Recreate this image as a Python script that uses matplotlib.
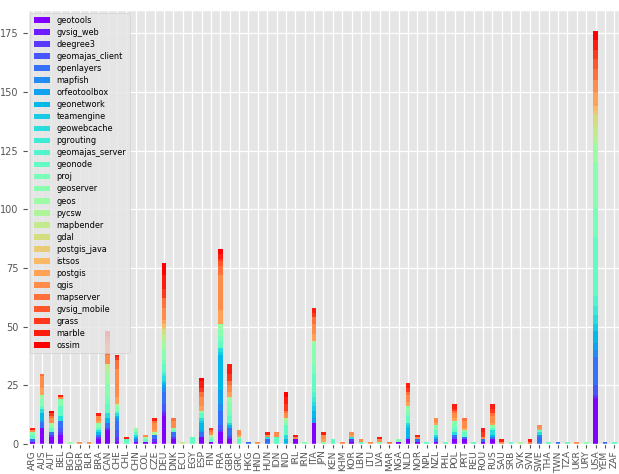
import numpy as np
import matplotlib
matplotlib.use("Agg")
import matplotlib.pyplot as plt

plt.style.use("ggplot")

countries = ["ARG", "AUS", "AUT", "BEL", "BGD", "BGR", "BLR", "BRA", "CAN", "CHE",
             "CHL", "CHN", "COL", "CZE", "DEU", "DNK", "ECU", "EGY", "ESP", "FIN",
             "FRA", "GBR", "GRC", "HKG", "HND", "HUN", "IDN", "IND", "IRL", "IRN",
             "ITA", "JPN", "KEN", "KHM", "KOR", "LBN", "LTU", "LVA", "MAR", "NGA",
             "NLD", "NOR", "NPL", "NZL", "PHL", "POL", "PRT", "REU", "ROU", "RUS",
             "SAU", "SRB", "SVK", "SVN", "SWE", "THA", "TWN", "TZA", "UKR", "URY",
             "USA", "YEM", "ZAF"]

# counts per project, keyed by country (missing -> 0)
geotools = {"ARG": 1, "AUS": 7, "AUT": 3, "BEL": 4, "BRA": 2, "CAN": 6, "CHE": 1, "CHN": 1,
            "COL": 1, "CZE": 1, "DEU": 12, "DNK": 2, "ESP": 3, "FIN": 1, "FRA": 5, "GBR": 2,
            "IRL": 2, "ITA": 9, "KOR": 1, "NGA": 1, "NLD": 2, "NOR": 1, "NZL": 1, "POL": 2,
            "PRT": 2, "ROU": 1, "RUS": 2, "USA": 19}
gvsig_web = {"DEU": 1, "USA": 1}
deegree3 = {"AUT": 1, "BEL": 1, "BRA": 1, "CAN": 1, "CHE": 2, "CZE": 1, "DEU": 1, "DNK": 1,
            "FRA": 1, "GBR": 1, "KOR": 1, "USA": 1}
geomajas_client = {"BEL": 2, "CHE": 3, "DEU": 3, "FRA": 2, "GBR": 1, "POL": 1, "USA": 4}
openlayers = {"ARG": 1, "AUS": 2, "AUT": 1, "BEL": 3, "BRA": 1, "CAN": 2, "CHE": 4, "CHN": 1,
              "CZE": 2, "DEU": 5, "DNK": 2, "ESP": 2, "FRA": 6, "GBR": 3, "HKG": 1, "HUN": 2,
              "NOR": 1, "NZL": 1, "POL": 1, "PRT": 1, "ROU": 1, "RUS": 1, "SWE": 3, "TWN": 1,
              "USA": 12, "YEM": 1}
mapfish = {"AUS": 1, "CHE": 1, "DEU": 2, "FRA": 3, "SWE": 1, "USA": 3}
orfeotoolbox = {"DEU": 1, "ESP": 1, "FRA": 6, "ITA": 2, "NLD": 1, "USA": 3}
geonetwork = {"AUS": 3, "BRA": 1, "CAN": 2, "CHE": 1, "CHN": 1, "DEU": 1, "ESP": 3, "FRA": 15,
              "GBR": 1, "IND": 2, "ITA": 3, "NLD": 4, "NZL": 1, "RUS": 1, "USA": 5}
teamengine = {"DEU": 1, "ESP": 1, "FRA": 1, "ITA": 2, "NLD": 1, "USA": 3}
geowebcache = {"AUS": 2, "BEL": 2, "BRA": 1, "CAN": 2, "CHE": 1, "CHN": 1, "DEU": 2, "ESP": 1,
               "FRA": 2, "GBR": 1, "HUN": 1, "IND": 2, "ITA": 2, "KOR": 1, "NLD": 1, "NZL": 1,
               "POL": 1, "RUS": 2, "SWE": 1, "USA": 4}
pgrouting = {"DEU": 1, "ITA": 2, "USA": 4}
geomajas_server = {"DEU": 1, "ITA": 2, "USA": 4}
geonode = {"ARG": 2, "AUS": 1, "AUT": 2, "BEL": 4, "BRA": 1, "CAN": 4, "CHE": 1, "CHL": 2,
           "CHN": 1, "COL": 1, "DEU": 3, "DNK": 1, "EGY": 3, "ESP": 2, "FIN": 1, "FRA": 3,
           "GBR": 3, "GRC": 2, "IDN": 3, "IND": 4, "ITA": 8, "KEN": 2, "LBN": 1, "NLD": 3,
           "NPL": 1, "NZL": 2, "PHL": 1, "POL": 2, "PRT": 2, "REU": 1, "RUS": 1, "SRB": 1,
           "SWE": 1, "THA": 1, "TZA": 1, "USA": 25, "ZAF": 1}
proj = {"CAN": 3, "DEU": 2, "FRA": 2, "GBR": 2, "ITA": 4, "NLD": 1, "POL": 1, "USA": 12}
geoserver = {"ARG": 1, "AUS": 3, "AUT": 1, "BEL": 3, "BRA": 2, "CAN": 6, "CHE": 2, "CHN": 1,
             "DEU": 4, "DNK": 1, "ESP": 1, "FIN": 1, "FRA": 3, "GBR": 4, "GRC": 1, "IND": 2,
             "IRN": 1, "ITA": 8, "JPN": 1, "LVA": 1, "NGA": 1, "NLD": 3, "NZL": 2, "POL": 2,
             "PRT": 1, "RUS": 1, "URY": 1, "USA": 20}
geos = {"AUS": 2, "BGD": 1, "CAN": 4, "CHN": 1, "COL": 1, "DEU": 3, "FRA": 2, "GBR": 2,
        "ITA": 2, "USA": 8}
pycsw = {"AUT": 1, "CAN": 2, "CHE": 1, "CZE": 1, "DEU": 2, "FIN": 1, "IND": 1, "SVK": 1, "USA": 3}
mapbender = {"CAN": 2, "DEU": 2, "ECU": 1, "USA": 4}
gdal = {"DEU": 2, "USA": 5}
postgis_java = {"DEU": 1, "USA": 2}
istsos = {"DEU": 1, "USA": 2}
postgis = {"AUS": 3, "BRA": 1, "CHE": 3, "CZE": 1, "DEU": 2, "ESP": 2, "FRA": 6, "GBR": 2,
           "GRC": 1, "ITA": 3, "JPN": 1, "KOR": 1, "NLD": 2, "NZL": 1, "POL": 1, "PRT": 1,
           "RUS": 1, "SWE": 1, "USA": 6}
qgis = {"ARG": 1, "AUS": 5, "AUT": 2, "BEL": 1, "BGR": 1, "BLR": 1, "BRA": 2, "CAN": 4,
        "CHE": 12, "COL": 1, "CZE": 3, "DEU": 5, "DNK": 3, "ESP": 4, "FIN": 1, "FRA": 15,
        "GBR": 3, "GRC": 2, "HND": 1, "HUN": 1, "IDN": 2, "IND": 2, "IRL": 1, "ITA": 4,
        "JPN": 2, "KHM": 1, "KOR": 1, "LBN": 1, "LTU": 1, "LVA": 1, "NLD": 3, "NOR": 1,
        "NZL": 2, "POL": 2, "PRT": 3, "ROU": 1, "RUS": 3, "SAU": 1, "SWE": 1, "UKR": 1,
        "USA": 5}
mapserver = {"AUS": 1, "AUT": 1, "CAN": 4, "CHE": 4, "CZE": 1, "DEU": 4, "DNK": 1, "ESP": 2,
             "FIN": 1, "FRA": 4, "GBR": 2, "IND": 1, "ITA": 3, "MAR": 1, "NLD": 1, "POL": 1,
             "PRT": 1, "RUS": 1, "SVN": 1, "USA": 5}
gvsig_mobile = {"CAN": 2, "FRA": 2, "USA": 4}
grass = {"AUT": 1, "CAN": 2, "CHE": 1, "DEU": 4, "ESP": 2, "FIN": 1, "FRA": 1, "GBR": 3,
         "IND": 3, "ITA": 2, "NLD": 2, "POL": 1, "ROU": 2, "RUS": 2, "USA": 4}
marble = {"ARG": 1, "BEL": 1, "BRA": 1, "CAN": 2, "CHE": 1, "CHL": 1, "CZE": 1, "DEU": 6,
          "ESP": 3, "FRA": 2, "GBR": 4, "HUN": 1, "IND": 3, "IRL": 1, "ITA": 2, "JPN": 1,
          "LVA": 1, "NLD": 2, "NOR": 1, "POL": 2, "ROU": 2, "RUS": 2, "SAU": 1, "SVN": 1,
          "USA": 4}
ossim = {"AUT": 1, "DEU": 5, "ESP": 1, "FRA": 2, "IND": 2, "USA": 4}

projects = [
    ("geotools", geotools), ("gvsig_web", gvsig_web), ("deegree3", deegree3),
    ("geomajas_client", geomajas_client), ("openlayers", openlayers), ("mapfish", mapfish),
    ("orfeotoolbox", orfeotoolbox), ("geonetwork", geonetwork), ("teamengine", teamengine),
    ("geowebcache", geowebcache), ("pgrouting", pgrouting), ("geomajas_server", geomajas_server),
    ("geonode", geonode), ("proj", proj), ("geoserver", geoserver), ("geos", geos),
    ("pycsw", pycsw), ("mapbender", mapbender), ("gdal", gdal), ("postgis_java", postgis_java),
    ("istsos", istsos), ("postgis", postgis), ("qgis", qgis), ("mapserver", mapserver),
    ("gvsig_mobile", gvsig_mobile), ("grass", grass), ("marble", marble), ("ossim", ossim),
]

fig = plt.figure(figsize=(6.19, 4.74), dpi=100)
ax = fig.add_axes([28 / 619, 30 / 474, 591 / 619, 433.7 / 474])

x = np.arange(len(countries))
colors = plt.cm.rainbow(np.linspace(0, 1, len(projects)))
bottom = np.zeros(len(countries))
for (name, counts), col in zip(projects, colors):
    vals = np.array([counts.get(c, 0) for c in countries], dtype=float)
    ax.bar(x, vals, width=0.5, bottom=bottom, color=col, label=name, linewidth=0)
    bottom += vals

ax.set_xlim(-0.5, len(countries) - 0.5)
ax.set_xticks(x)
ax.set_xticklabels(countries, rotation=90, fontsize=6.6, color="#555555")
ax.set_yticks(np.arange(0, 176, 25))
ax.tick_params(axis="x", pad=1.5, length=3)
ax.tick_params(axis="y", labelsize=7, colors="#555555")
ax.grid(True, color="white", linewidth=0.9)

ax.legend(loc="upper left", fontsize=5.9, framealpha=0.8, borderaxespad=0.3,
          labelspacing=0.37, handlelength=2.0)

fig.savefig("out.png", dpi=100)
